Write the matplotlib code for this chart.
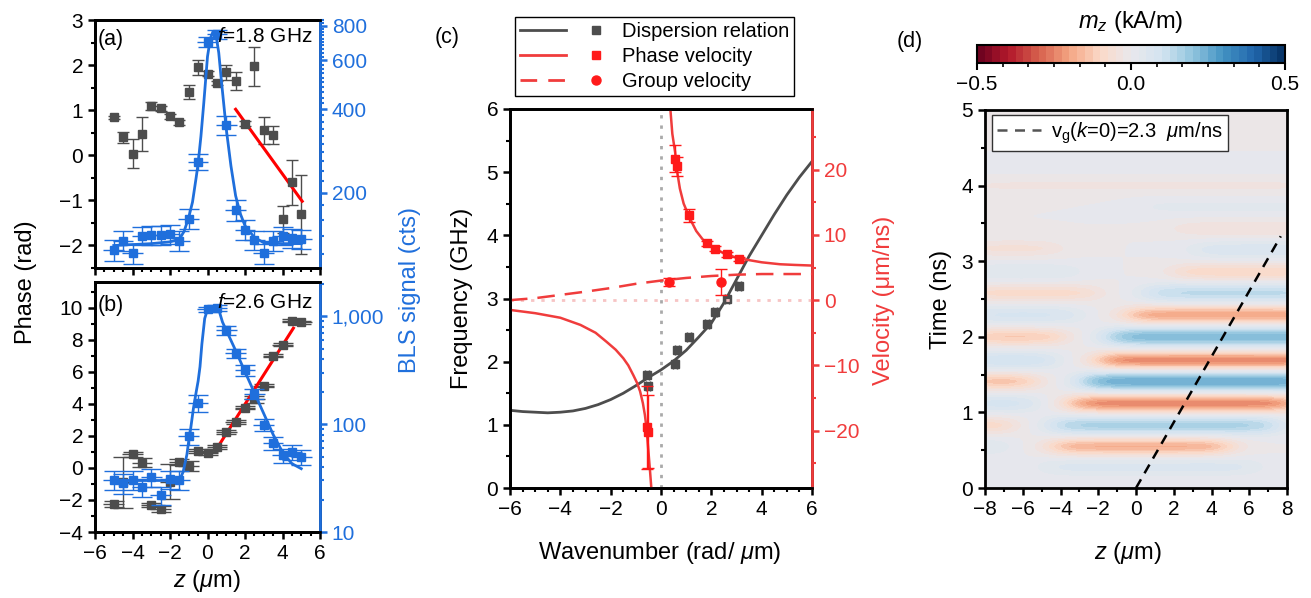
import numpy as np
import matplotlib
matplotlib.use('Agg')
import matplotlib.pyplot as plt
from matplotlib.lines import Line2D
from matplotlib.legend_handler import HandlerTuple
from matplotlib.colors import LinearSegmentedColormap
from matplotlib.ticker import MultipleLocator, FixedLocator, FixedFormatter, NullFormatter, LogLocator

plt.rcParams['font.family'] = ['Liberation Sans', 'DejaVu Sans']
plt.rcParams['mathtext.fontset'] = 'custom'
plt.rcParams['mathtext.rm'] = 'Liberation Sans'
plt.rcParams['mathtext.it'] = 'Liberation Sans:italic'
plt.rcParams['mathtext.bf'] = 'Liberation Sans:bold'
plt.rcParams['axes.linewidth'] = 2.0

# ---------------- data ----------------
# (a) f = 1.8 GHz and (b) f = 2.6 GHz, measured positions
z_pos = [-5, -4.5, -4, -3.5, -3, -2.5, -2, -1.5, -1, -0.5, 0, 0.5, 1, 1.5, 2, 2.5, 3, 3.5, 4, 4.5, 5]

phase_a = [0.84, 0.40, 0.03, 0.47, 1.10, 1.04, 0.86, 0.73, 1.40, 1.95, 1.81, 1.60,
           1.84, 1.64, 0.70, 1.97, 0.55, 0.46, -1.42, -0.60, -1.31]
phase_a_err = [0.03, 0.12, 0.32, 0.38, 0.09, 0.05, 0.05, 0.05, 0.16, 0.17, 0.05, 0.04,
               0.16, 0.2, 0.05, 0.44, 0.29, 0.2, 0.3, 0.5, 0.87]
bls_a = [124, 134, 121, 140, 141, 141, 142, 134, 161, 259, 700, 745, 351, 173, 147,
         135, 121, 134, 140, 137, 136]
bls_a_err = [11, 11, 10, 11, 11, 11, 11, 11, 13, 18, 30, 30, 28, 15, 12, 11, 10, 11, 11, 11, 11]
fit_z_a = [-5, -4, -3, -2, -1.5, -1.25, -1.0, -0.8, -0.6, -0.5, -0.35, -0.2, 0, 0.15, 0.3,
           0.45, 0.6, 0.75, 1.0, 1.25, 1.5, 1.75, 2.0, 2.5, 3.0, 4.0, 5.0]
fit_bls_a = [129, 130, 131, 133, 136, 145, 163, 185, 228, 255, 320, 420, 620, 720, 765,
             745, 640, 500, 340, 250, 195, 168, 152, 138, 132, 131, 131]
line_z_a = [1.5, 5.05]
line_phase_a = [1.02, -1.02]

phase_b = [-2.26, -0.9, 0.85, 0.33, -2.32, -2.57, -0.85, 0.37, 0.12, 1.05, 0.91, 1.30,
           2.24, 2.86, 3.75, 4.27, 5.14, 7.0, 7.68, 9.19, 9.09]
phase_b_err = [0.2, 1.6, 0.15, 0.3, 0.1, 0.2, 1.1, 0.2, 0.3, 0.1, 0.1, 0.1, 0.1, 0.1,
               0.1, 0.2, 0.1, 0.1, 0.1, 0.1, 0.1]
bls_b = [30.6, 28.6, 30.6, 26.1, 32.3, 21.9, 30.9, 30.6, 77.4, 158, 1153, 1186, 738, 454,
         314, 191, 99, 66.7, 51.3, 55, 49.4]
bls_b_err = [6, 6, 6, 5, 6, 4, 6, 6, 13, 28, 70, 70, 74, 45, 35, 22, 13, 9, 8, 9, 8]
fit_z_b = [-5, -3, -1.5, -1.3, -1.1, -1.0, -0.9, -0.75, -0.6, -0.5, -0.4, -0.3, -0.15, 0,
           0.2, 0.35, 0.5, 0.6, 0.8, 1.0, 1.5, 2.0, 2.5, 3.0, 3.5, 4.0, 4.5, 5.0]
fit_bls_b = [30, 30, 30, 36, 52, 70, 90, 140, 200, 250, 340, 550, 950, 1150, 1220, 1235,
             1200, 1150, 880, 740, 480, 305, 195, 125, 80, 55, 43, 38.6]
line_z_b = [0.45, 4.58]
line_phase_b = [1.12, 8.72]

# (c) dispersion, phase and group velocity
k_meas = [-0.57, -0.50, 0.56, 0.65, 1.10, 1.84, 2.14, 2.61, 3.10]
f_meas = [1.79, 1.61, 1.97, 2.18, 2.39, 2.59, 2.79, 2.99, 3.19]
vp_meas = [-19.5, -20.2, 21.7, 20.5, 13.0, 8.7, 7.9, 7.0, 6.3]
vp_err = [6.4, 5.6, 2.1, 1.5, 1.0, 0.4, 0.4, 0.4, 0.3]
k_vg = [0.33, 2.38]
vg_meas = [2.8, 2.8]
vg_err = [0.6, 2.0]

k_disp = [-6, -5.5, -5, -4.5, -4, -3.5, -3, -2.5, -2, -1.5, -1, -0.5, 0, 0.5, 1.0, 1.5,
          2.0, 2.5, 3.0, 3.5, 4.0, 4.5, 5.0, 5.5, 6.0]
f_disp = [1.23, 1.21, 1.20, 1.19, 1.20, 1.22, 1.26, 1.32, 1.40, 1.50, 1.62, 1.75, 1.87,
          2.01, 2.18, 2.39, 2.61, 2.93, 3.30, 3.67, 4.00, 4.33, 4.64, 4.92, 5.17]
k_vp_neg = [-6, -5, -4, -3.2, -2.6, -2.16, -1.8, -1.5, -1.3, -1.1, -0.95, -0.83, -0.72,
            -0.64, -0.57, -0.51, -0.44, -0.37]
vp_neg = [-1.5, -2.0, -2.7, -3.8, -5.0, -6.4, -7.6, -8.9, -10.0, -11.5, -12.7, -14.0, -15.8,
          -17.6, -19.8, -22.7, -26.0, -29.5]
k_vp_pos = [0.36, 0.38, 0.45, 0.56, 0.65, 0.75, 0.9, 1.15, 1.4, 1.68, 2.0, 2.48, 3.0, 3.4,
            4.0, 4.73, 5.3, 6.0]
vp_pos = [30.5, 28.9, 25.5, 22.7, 19.5, 17.1, 14.8, 12.5, 10.6, 9.2, 8.2, 7.2, 6.5, 6.2,
          5.8, 5.5, 5.4, 5.3]
k_vg_line = [-6, -5, -4, -3, -2, -1, 0, 1, 2, 3, 4, 5, 6]
vg_line = [0.0, 0.3, 0.8, 1.3, 1.85, 2.5, 3.0, 3.4, 3.7, 3.9, 4.0, 4.0, 4.0]

# (d) simulated m_z stripes: band time, amplitude (kA/m), z extent (um)
band_t = [0.28, 0.55, 0.83, 1.12, 1.41, 1.69, 2.00, 2.29, 2.58, 2.86, 3.15, 3.43, 3.72, 4.00, 4.30, 4.60]
band_amp = [0.06, -0.18, 0.16, -0.25, 0.25, -0.25, 0.22, -0.20, 0.13, -0.10, 0.07, -0.05,
            0.03, -0.03, 0.02, -0.02]
band_lo = [-5.0, -4.5, -4.5, -3.5, -2.8, -2.0, -1.5, -0.5, 0.5, 2.0, 3.0, 2.0, 0.0, -9, -9, -9]
band_hi = [6.5, 5.0, 7.5, 8.5, 10, 10, 10, 10, 10, 10, 10, 10, 10, 10, 10, 10]
left_t = [0.55, 0.83, 1.12, 1.41, 1.69, 2.00, 2.29, 2.58, 2.86, 3.17]
left_amp = [0.06, -0.11, 0.09, -0.15, 0.10, -0.13, 0.08, -0.09, 0.05, -0.06]
left_lo = [-9, -9, -9, -9, -9, -9, -9, -9, -9, -9]
left_hi = [-6.8, -6.5, -5.2, -5.3, -4.2, -3.8, -3.0, -2.0, -3.0, -4.0]
vg_z = [0, 7.67]
vg_t = [0, 3.33]

# ---------------- style ----------------
W, H = 1311, 598
BLUE = '#1f6fdc'
GRAY = '#4d4d4d'
RED = '#f03c3c'
RED_M = '#ff1a1a'
FS_TICK = 15
FS_LAB = 17

fig = plt.figure(figsize=(W / 100, H / 100), dpi=100)


def px_axes(x0, y0, x1, y1):
    return fig.add_axes([x0 / W, 1 - y1 / H, (x1 - x0) / W, (y1 - y0) / H])


def px_text(x, y, s, **kw):
    fig.text(x / W, 1 - y / H, s, **kw)


def style_ticks(ax):
    ax.tick_params(which='major', direction='out', length=5, width=1.8, labelsize=FS_TICK)
    ax.tick_params(which='minor', direction='out', length=3, width=1.5)


# ---------------- (a) ----------------
ax_a = px_axes(95, 20, 320, 268)
ax_a.errorbar(z_pos, phase_a, yerr=phase_a_err, fmt='s', color=GRAY, ms=5.5,
              capsize=4.5, elinewidth=1, capthick=1)
ax_a.plot(line_z_a, line_phase_a, color='#ff0000', lw=2.2)
ax_a.set_xlim(-6, 6)
ax_a.set_ylim(-2.5, 3)
ax_a.xaxis.set_major_locator(MultipleLocator(2))
ax_a.xaxis.set_minor_locator(MultipleLocator(0.5))
ax_a.yaxis.set_major_locator(MultipleLocator(1))
ax_a.yaxis.set_minor_locator(MultipleLocator(0.5))
ax_a.tick_params(labelbottom=False)
style_ticks(ax_a)

ax_a2 = ax_a.twinx()
ax_a2.set_yscale('log')
ax_a2.errorbar(z_pos, bls_a, xerr=0.55, fmt='none', ecolor=BLUE, elinewidth=1)
ax_a2.errorbar(z_pos, bls_a, yerr=bls_a_err, fmt='s', color=BLUE, ms=5.5,
               capsize=7.5, elinewidth=1, capthick=1)
ax_a2.plot(fit_z_a, fit_bls_a, color=BLUE, lw=2)
ax_a2.set_ylim(107, 840)
ax_a2.yaxis.set_major_locator(FixedLocator([200, 400, 600, 800]))
ax_a2.yaxis.set_major_formatter(FixedFormatter(['200', '400', '600', '800']))
ax_a2.yaxis.set_minor_locator(FixedLocator([v for v in range(120, 841, 20) if v % 200]))
ax_a2.yaxis.set_minor_formatter(NullFormatter())
style_ticks(ax_a2)
ax_a2.tick_params(axis='y', which='both', colors=BLUE)
ax_a2.spines['right'].set_color(BLUE)
px_text(98, 39, '(a)', fontsize=15.5, va='center', ha='left')
px_text(312, 36, '$f$=1.8 GHz', fontsize=15, va='center', ha='right')

# ---------------- (b) ----------------
ax_b = px_axes(95, 282, 320, 532)
ax_b.errorbar(z_pos, phase_b, xerr=0.55, fmt='none', ecolor=GRAY, elinewidth=1)
ax_b.errorbar(z_pos, phase_b, yerr=phase_b_err, fmt='s', color=GRAY, ms=5.5,
              capsize=7, elinewidth=1, capthick=1)
ax_b.plot(line_z_b, line_phase_b, color='#ff0000', lw=2.2)
ax_b.set_xlim(-6, 6)
ax_b.set_ylim(-4, 11.6)
ax_b.xaxis.set_major_locator(MultipleLocator(2))
ax_b.xaxis.set_minor_locator(MultipleLocator(0.5))
ax_b.yaxis.set_major_locator(MultipleLocator(2))
ax_b.yaxis.set_minor_locator(MultipleLocator(1))
style_ticks(ax_b)

ax_b2 = ax_b.twinx()
ax_b2.set_yscale('log')
ax_b2.errorbar(z_pos, bls_b, xerr=0.55, fmt='none', ecolor=BLUE, elinewidth=1)
ax_b2.errorbar(z_pos, bls_b, yerr=bls_b_err, fmt='s', color=BLUE, ms=5.5,
               capsize=7.5, elinewidth=1, capthick=1)
ax_b2.plot(fit_z_b, fit_bls_b, color=BLUE, lw=2)
ax_b2.set_ylim(10, 2070)
ax_b2.yaxis.set_major_locator(FixedLocator([10, 100, 1000]))
ax_b2.yaxis.set_major_formatter(FixedFormatter(['10', '100', '1,000']))
ax_b2.yaxis.set_minor_locator(LogLocator(base=10, subs=np.arange(2, 10)))
ax_b2.yaxis.set_minor_formatter(NullFormatter())
style_ticks(ax_b2)
ax_b2.tick_params(axis='y', which='both', colors=BLUE)
ax_b2.spines['right'].set_color(BLUE)
px_text(98, 305, '(b)', fontsize=15.5, va='center', ha='left')
px_text(312, 303, '$f$=2.6 GHz', fontsize=15, va='center', ha='right')

px_text(26, 282, 'Phase (rad)', fontsize=FS_LAB, rotation=90, va='center', ha='center')
px_text(410, 290, 'BLS signal (cts)', fontsize=FS_LAB, rotation=90, va='center',
        ha='center', color=BLUE)
px_text(207, 581, '$z$ ($\\mu$m)', fontsize=FS_LAB, va='center', ha='center')

# ---------------- (c) ----------------
ax_c = px_axes(510, 109, 812, 488)
ax_c.plot(k_disp, f_disp, color=GRAY, lw=2)
ax_c.errorbar(k_meas, f_meas, xerr=0.08, fmt='s', color=GRAY, ms=6, capsize=3.5,
              elinewidth=1, capthick=1)
ax_c.axvline(0, color='#aaaaaa', lw=2, ls=(0, (1.2, 2.5)))
ax_c.set_xlim(-6, 6)
ax_c.set_ylim(0, 6)
ax_c.xaxis.set_major_locator(MultipleLocator(2))
ax_c.xaxis.set_minor_locator(MultipleLocator(0.5))
ax_c.yaxis.set_major_locator(MultipleLocator(1))
ax_c.yaxis.set_minor_locator(MultipleLocator(0.5))
style_ticks(ax_c)

ax_c2 = ax_c.twinx()
ax_c2.axhline(0, color='#f7c4c4', lw=2, ls=(0, (1.2, 2.5)))
ax_c2.plot(k_vp_neg, vp_neg, color=RED, lw=1.8)
ax_c2.plot(k_vp_pos, vp_pos, color=RED, lw=1.8)
ax_c2.plot(k_vg_line, vg_line, color=RED, lw=1.8, dashes=(7, 4))
ax_c2.errorbar(k_meas, vp_meas, yerr=vp_err, fmt='s', color=RED_M, ms=6, capsize=4.5,
               elinewidth=1, capthick=1)
ax_c2.errorbar(k_vg, vg_meas, yerr=vg_err, fmt='o', color=RED_M, ms=6.5, capsize=4.5,
               elinewidth=1, capthick=1)
ax_c2.set_ylim(-28.8, 29.3)
ax_c2.yaxis.set_major_locator(MultipleLocator(10))
ax_c2.yaxis.set_minor_locator(MultipleLocator(5))
style_ticks(ax_c2)
ax_c2.tick_params(axis='y', which='both', colors=RED)
ax_c2.spines['right'].set_color(RED)

px_text(435, 38, '(c)', fontsize=15.5, va='center', ha='left')
px_text(462, 298, 'Frequency (GHz)', fontsize=FS_LAB, rotation=90, va='center', ha='center')
px_text(884, 300, 'Velocity (\u03bcm/ns)', fontsize=FS_LAB, rotation=90, va='center',
        ha='center', color=RED)
px_text(660, 553, 'Wavenumber (rad/ $\\mu$m)', fontsize=FS_LAB, va='center', ha='center')

h_lines = [(Line2D([], [], color=GRAY, lw=2),
            Line2D([], [], ls='none', marker='s', color=GRAY, ms=6)),
           (Line2D([], [], color=RED, lw=2),
            Line2D([], [], ls='none', marker='s', color=RED_M, ms=6)),
           (Line2D([], [], color=RED, lw=2, dashes=(6, 4)),
            Line2D([], [], ls='none', marker='o', color=RED_M, ms=6.5))]
leg = fig.legend(handles=h_lines,
                 labels=['Dispersion relation', 'Phase velocity', 'Group velocity'],
                 handler_map={tuple: HandlerTuple(ndivide=None, pad=0.35)},
                 loc='upper left', bbox_to_anchor=(515 / W, 1 - 17 / H), borderaxespad=0,
                 handlelength=4.9, handletextpad=0.15, borderpad=0.25, labelspacing=0.3,
                 fontsize=14.5, fancybox=False, edgecolor='black', framealpha=1,
                 numpoints=1)
leg.get_frame().set_linewidth(1.0)

# ---------------- (d) ----------------
ax_d = px_axes(985, 110, 1287, 488)
zz = np.linspace(-8, 8, 321)
tt = np.linspace(0, 5, 401)
Z, T = np.meshgrid(zz, tt)
mz = np.zeros_like(Z)
edge = 1.1
sig_t = 0.085
for tc, a, lo, hi in zip(band_t + left_t, band_amp + left_amp,
                         band_lo + left_lo, band_hi + left_hi):
    env = 0.5 * (np.tanh((Z - lo) / edge) - np.tanh((Z - hi) / edge))
    mz += a * env * np.exp(-0.5 * ((T - tc) / sig_t) ** 2)

cmap = LinearSegmentedColormap.from_list(
    'rdbu_gray', ['#67001f', '#b2182b', '#d6604d', '#f4a582', '#fbd9c8', '#e9e8ec',
                  '#d3e4f0', '#92c5de', '#4393c3', '#2166ac', '#053061'])
levels = np.linspace(-0.5, 0.5, 41)
cf = ax_d.contourf(Z, T, mz, levels=levels, cmap=cmap)
ax_d.plot(vg_z, vg_t, color='black', lw=1.8, dashes=(4, 2.8))
ax_d.set_xlim(-8, 8)
ax_d.set_ylim(0, 5)
ax_d.xaxis.set_major_locator(MultipleLocator(2))
ax_d.xaxis.set_minor_locator(MultipleLocator(1))
ax_d.yaxis.set_major_locator(MultipleLocator(1))
ax_d.yaxis.set_minor_locator(MultipleLocator(0.5))
style_ticks(ax_d)
leg_d = ax_d.legend(handles=[Line2D([], [], color='#555555', lw=1.8, dashes=(4, 3))],
                    labels=['v$_\\mathrm{g}$($k$=0)=2.3  $\\mu$m/ns'],
                    loc='upper left', bbox_to_anchor=(991.7 / W, 1 - 115 / H),
                    bbox_transform=fig.transFigure, borderaxespad=0, handlelength=2.2,
                    handletextpad=0.5, borderpad=0.25, fontsize=14.5, fancybox=False,
                    edgecolor='#333333', framealpha=1)
leg_d.get_frame().set_linewidth(1.0)

cax = px_axes(977, 45, 1285, 63)
cb = fig.colorbar(cf, cax=cax, orientation='horizontal', ticks=[-0.5, 0, 0.5])
cb.outline.set_linewidth(1.5)
cax.xaxis.set_minor_locator(MultipleLocator(1 / 12))
cax.tick_params(which='major', direction='out', length=5, width=1.5, labelsize=FS_TICK)
cax.tick_params(which='minor', direction='out', length=3, width=1.2)
cax.set_xlim(-0.5, 0.5)

px_text(897, 41, '(d)', fontsize=15.5, va='center', ha='left')
px_text(1131, 22, '$m_z$ (kA/m)', fontsize=17, va='center', ha='center')
px_text(941, 299, 'Time (ns)', fontsize=FS_LAB, rotation=90, va='center', ha='center')
px_text(1128, 553, '$z$ ($\\mu$m)', fontsize=FS_LAB, va='center', ha='center')

fig.savefig('out.png', dpi=100)
